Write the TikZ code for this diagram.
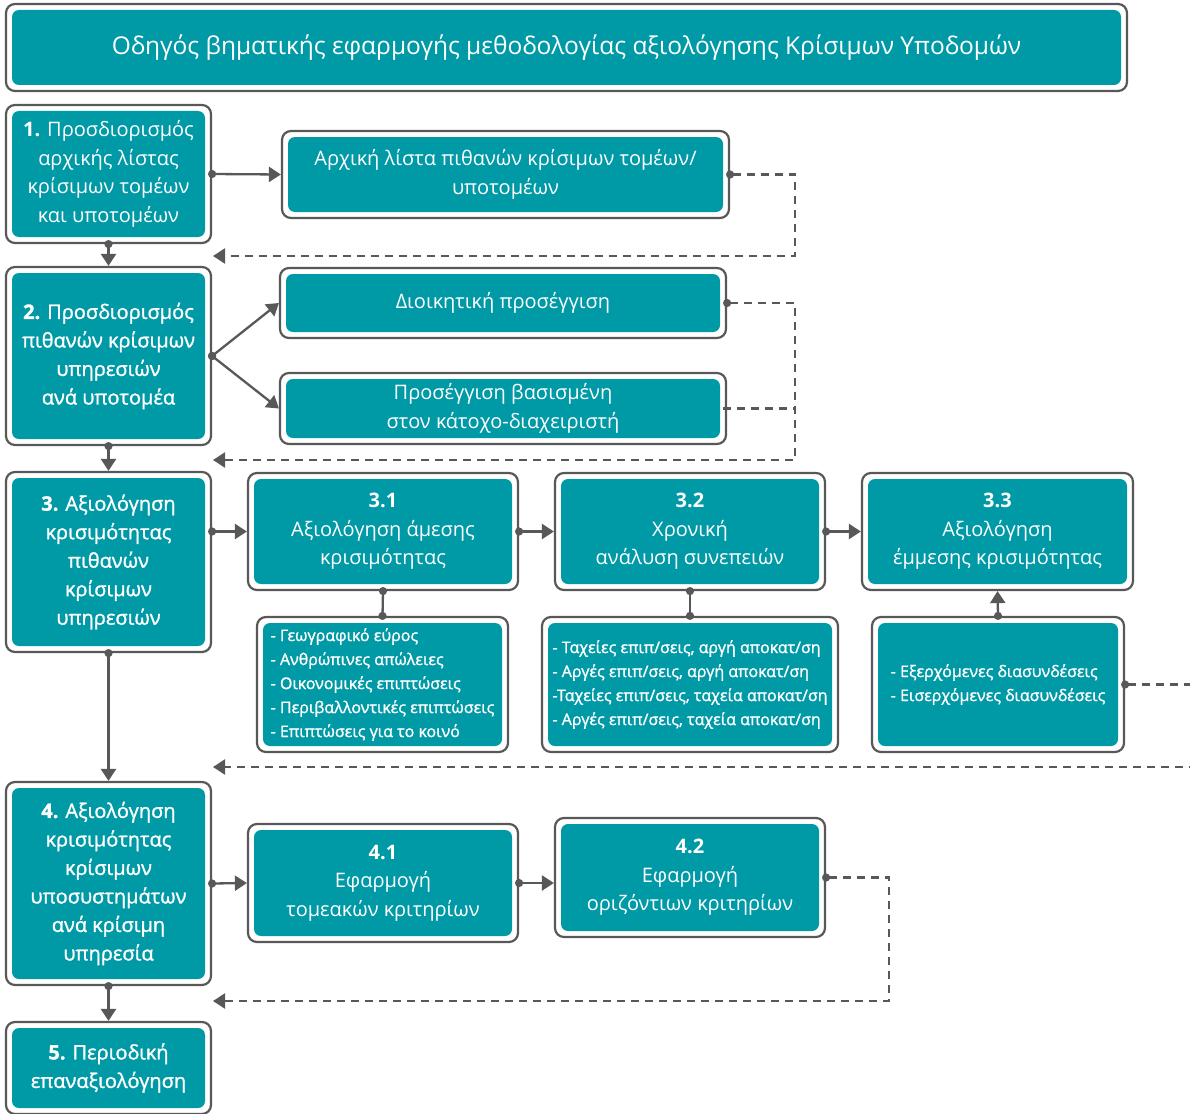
\documentclass[tikz,border=0pt]{standalone}
\usepackage{fontspec}
\setmainfont{Open Sans}
\newfontfamily\medf[FakeBold=1.3]{Open Sans}
\usetikzlibrary{arrows.meta}
\definecolor{tealc}{RGB}{0,153,166}
\definecolor{edgec}{RGB}{88,88,88}
\tikzset{
  box/.style={draw=edgec, line width=2.2pt, fill=white, rounded corners=9pt,
    inner sep=0pt, text=white, align=center,
    path picture={\fill[tealc, rounded corners=7pt]
      ([shift={(6pt,6pt)}]path picture bounding box.south west) rectangle
      ([shift={(-6pt,-6pt)}]path picture bounding box.north east);}},
  bigtxt/.style={font=\fontsize{20}{28.5}\selectfont},
  medtxt/.style={font=\medf\fontsize{20}{28.5}\selectfont},
  listtxt/.style={font=\medf\fontsize{16}{24}\selectfont, align=left},
  conn/.style={draw=edgec, line width=2.3pt, shorten <=-4pt,
    {Circle[length=8pt]}-{Triangle[width=15pt,length=12pt]}},
  dotdot/.style={draw=edgec, line width=2.3pt, shorten <=-4pt, shorten >=-4pt,
    {Circle[length=8pt]}-{Circle[length=8pt]}},
  dconn/.style={conn, dash pattern=on 8pt off 6pt},
}
\begin{document}
\begin{tikzpicture}[x=1pt,y=-1pt]
\useasboundingbox (0,0) rectangle (1190,1113);

% title
\node[box, minimum width=1121pt, minimum height=87pt, font=\fontsize{24.5}{28}\selectfont]
  (title) at (566.5,47.5) {Οδηγός βηματικής εφαρμογής μεθοδολογίας αξιολόγησης Κρίσιμων Υποδομών};

% left column
\node[box, bigtxt, minimum width=205pt, minimum height=138pt] (b1) at (108.5,174)
  {\textbf{1.} Προσδιορισμός\\αρχικής λίστας\\κρίσιμων τομέων\\και υποτομέων};
\node[box, medtxt, minimum width=205pt, minimum height=178pt] (b2) at (108.5,356)
  {\textbf{2.} Προσδιορισμός\\πιθανών κρίσιμων\\υπηρεσιών\\ανά υποτομέα};
\node[box, medtxt, minimum width=205pt, minimum height=180pt] (b3) at (108.5,562)
  {\textbf{3.} Αξιολόγηση\\κρισιμότητας\\πιθανών\\κρίσιμων\\υπηρεσιών};
\node[box, medtxt, minimum width=205pt, minimum height=203pt] (b4) at (108.5,883.5)
  {\textbf{4.} Αξιολόγηση\\κρισιμότητας\\κρίσιμων\\υποσυστημάτων\\ανά κρίσιμη\\υπηρεσία};
\node[box, medtxt, minimum width=205pt, minimum height=92pt] (b5) at (108.5,1068)
  {\textbf{5.} Περιοδική\\επαναξιολόγηση};

% step 1 and 2 results
\node[box, bigtxt, minimum width=447pt, minimum height=87pt] (bA) at (505.5,174.5)
  {Αρχική λίστα πιθανών κρίσιμων τομέων/\\υποτομέων};
\node[box, bigtxt, minimum width=446pt, minimum height=70pt] (bD) at (503,303)
  {Διοικητική προσέγγιση};
\node[box, bigtxt, minimum width=446pt, minimum height=71pt] (bP) at (503,408.5)
  {Προσέγγιση βασισμένη\\στον κάτοχο-διαχειριστή};

% step 3
\node[box, bigtxt, minimum width=270pt, minimum height=117pt] (b31) at (383,531.5)
  {\textbf{3.1}\\Αξιολόγηση άμεσης\\κρισιμότητας};
\node[box, bigtxt, minimum width=270pt, minimum height=117pt] (b32) at (690,531.5)
  {\textbf{3.2}\\Χρονική\\ανάλυση συνεπειών};
\node[box, bigtxt, minimum width=271pt, minimum height=117pt] (b33) at (997.5,531.5)
  {\textbf{3.3}\\Αξιολόγηση\\έμμεσης κρισιμότητας};

\node[box, listtxt, minimum width=251pt, minimum height=135pt] (l31) at (382.5,684.5)
  {- Γεωγραφικό εύρος\\- Ανθρώπινες απώλειες\\- Οικονομικές επιπτώσεις\\- Περιβαλλοντικές επιπτώσεις\\- Επιπτώσεις για το κοινό};
\node[box, listtxt, minimum width=296pt, minimum height=135pt] (l32) at (690,684.5)
  {- Ταχείες επιπ/σεις, αργή αποκατ/ση\\- Αργές επιπ/σεις, αργή αποκατ/ση\\-Ταχείες επιπ/σεις, ταχεία αποκατ/ση\\- Αργές επιπ/σεις, ταχεία αποκατ/ση};
\node[box, listtxt, minimum width=252pt, minimum height=135pt] (l33) at (998,684.5)
  {- Εξερχόμενες διασυνδέσεις\\- Εισερχόμενες διασυνδέσεις};

% step 4
\node[box, bigtxt, minimum width=270pt, minimum height=118pt] (b41) at (383,883)
  {\textbf{4.1}\\Εφαρμογή\\τομεακών κριτηρίων};
\node[box, bigtxt, minimum width=270pt, minimum height=119pt] (b42) at (690,877.5)
  {\textbf{4.2}\\Εφαρμογή\\οριζόντιων κριτηρίων};

% helper coordinates
\coordinate (r1) at (795,256);  \coordinate (e1) at (213,256);
\coordinate (r2) at (795,460);  \coordinate (e2) at (213,460);
\coordinate (r3) at (1205,767); \coordinate (e3) at (213,767);
\coordinate (r4) at (889,1001); \coordinate (e4) at (213,1001);

% solid connectors
\draw[conn] (b1.east) -- (bA.west);
\draw[conn] (b1.south) -- (b2.north);
\draw[conn] (b2.east) -- (bD.west);
\draw[conn] (b2.east) -- (bP.west);
\draw[conn] (b2.south) -- (b3.north);
\draw[conn] (b31.west -| b3.east) -- (b31.west);
\draw[conn] (b31.east) -- (b32.west);
\draw[conn] (b32.east) -- (b33.west);
\draw[dotdot] (b31.south) -- (l31.north);
\draw[dotdot] (b32.south) -- (l32.north);
\draw[conn] (l33.north) -- (b33.south);
\draw[conn] (b3.south) -- (b4.north);
\draw[conn] (b4.east) -- (b41.west);
\draw[conn] (b41.east) -- (b41.east -| b42.west);
\draw[conn] (b4.south) -- (b5.north);

% dashed feedback connectors
\draw[dconn] (bA.east) -| (r1) -- (e1);
\draw[dconn] (bD.east) -| (r2) -- (e2);
\draw[dconn, -] (bP.east) -- (bP.east -| r2);
\draw[dconn] (l33.east) -| (r3) -- (e3);
\draw[dconn] (b42.east) -| (r4) -- (e4);
\end{tikzpicture}
\end{document}
